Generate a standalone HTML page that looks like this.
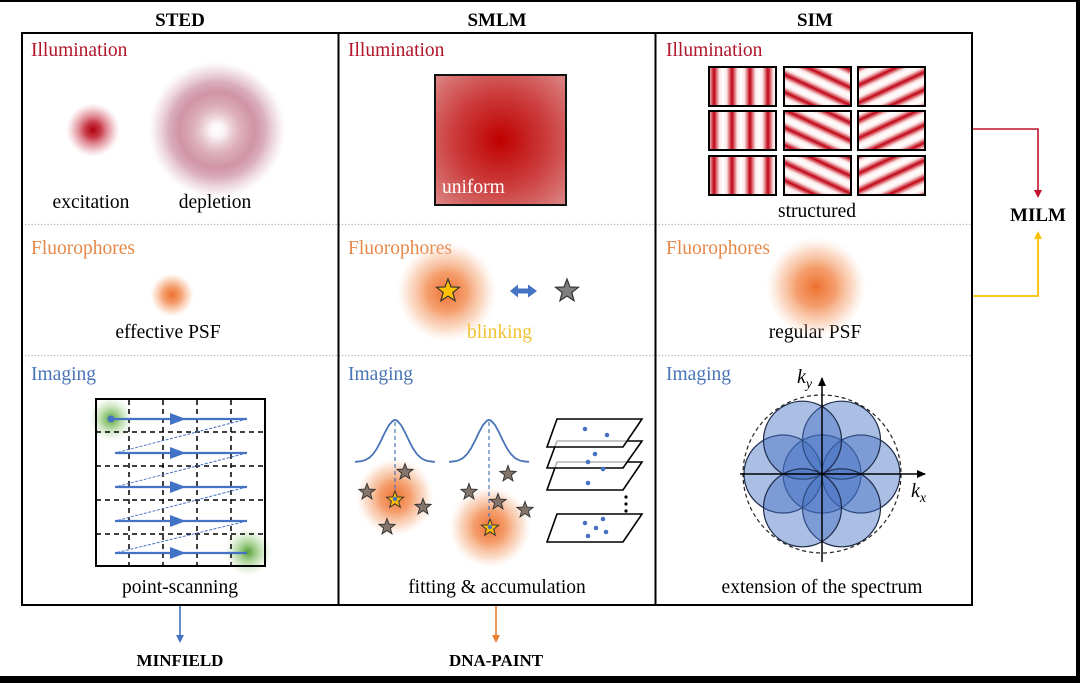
<!DOCTYPE html>
<html><head><meta charset="utf-8"><style>
html,body{margin:0;padding:0;background:#fff;}
svg{display:block;}
text{font-family:"Liberation Serif","DejaVu Serif",serif;}
</style></head><body>
<svg width="1080" height="683" viewBox="0 0 1080 683" xmlns="http://www.w3.org/2000/svg">
<defs>
  <radialGradient id="exc" cx="0.5" cy="0.5" r="0.5">
    <stop offset="0" stop-color="#b0000e"/>
    <stop offset="0.3" stop-color="#c42838" stop-opacity="0.9"/>
    <stop offset="0.7" stop-color="#d86a78" stop-opacity="0.45"/>
    <stop offset="1" stop-color="#e8a0a8" stop-opacity="0"/>
  </radialGradient>
  <radialGradient id="dep" cx="0.5" cy="0.5" r="0.5">
    <stop offset="0" stop-color="#ffffff" stop-opacity="1"/>
    <stop offset="0.1" stop-color="#fbf4f6" stop-opacity="1"/>
    <stop offset="0.35" stop-color="#d49aa8" stop-opacity="0.8"/>
    <stop offset="0.55" stop-color="#c07088" stop-opacity="0.75"/>
    <stop offset="0.7" stop-color="#c27890" stop-opacity="0.6"/>
    <stop offset="0.87" stop-color="#d4a0b0" stop-opacity="0.3"/>
    <stop offset="1" stop-color="#e8c8d0" stop-opacity="0"/>
  </radialGradient>
  <radialGradient id="org" cx="0.5" cy="0.5" r="0.5">
    <stop offset="0" stop-color="#ee7030" stop-opacity="1"/>
    <stop offset="0.4" stop-color="#f2874a" stop-opacity="0.8"/>
    <stop offset="0.75" stop-color="#f5a878" stop-opacity="0.4"/>
    <stop offset="1" stop-color="#fad0b8" stop-opacity="0"/>
  </radialGradient>
  <radialGradient id="grn" cx="0.5" cy="0.5" r="0.5">
    <stop offset="0" stop-color="#4a9a28" stop-opacity="0.95"/>
    <stop offset="0.45" stop-color="#7cbc5c" stop-opacity="0.55"/>
    <stop offset="1" stop-color="#b8dca8" stop-opacity="0"/>
  </radialGradient>
  <radialGradient id="uni" cx="0.5" cy="0.5" r="0.72">
    <stop offset="0" stop-color="#c00000"/>
    <stop offset="0.5" stop-color="#cc3c3c"/>
    <stop offset="1" stop-color="#dc8a8a"/>
  </radialGradient>
  <linearGradient id="sg" x1="0" y1="0" x2="1" y2="0">
    <stop offset="0" stop-color="#ffffff"/>
    <stop offset="0.2" stop-color="#fbe6e6"/>
    <stop offset="0.5" stop-color="#c00010"/>
    <stop offset="0.8" stop-color="#fbe6e6"/>
    <stop offset="1" stop-color="#ffffff"/>
  </linearGradient>
  <pattern id="pv" patternUnits="userSpaceOnUse" width="18" height="10" x="3">
    <rect width="18" height="10" fill="url(#sg)"/>
  </pattern>
  <pattern id="pd1" patternUnits="userSpaceOnUse" width="16" height="10" patternTransform="rotate(-65)">
    <rect width="16" height="10" fill="url(#sg)"/>
  </pattern>
  <pattern id="pd2" patternUnits="userSpaceOnUse" width="16" height="10" patternTransform="rotate(65)">
    <rect width="16" height="10" fill="url(#sg)"/>
  </pattern>
  <path id="star" d="M0,-10 L2.47,-3.4 L9.51,-3.09 L3.99,1.3 L5.88,8.09 L0,4.2 L-5.88,8.09 L-3.99,1.3 L-9.51,-3.09 L-2.47,-3.4 Z"/>
  <marker id="ak" markerWidth="10" markerHeight="10" refX="8" refY="5" orient="auto" markerUnits="userSpaceOnUse">
    <path d="M0,1 L9,5 L0,9 Z" fill="#000"/>
  </marker>
</defs>

<rect x="0" y="0" width="1080" height="2" fill="#000"/>
<rect x="1076" y="0" width="4" height="683" fill="#000"/>
<rect x="0" y="676" width="1080" height="7" fill="#000"/>

<text x="180" y="26" font-size="19" font-weight="bold" text-anchor="middle">STED</text>
<text x="497" y="26" font-size="19" font-weight="bold" text-anchor="middle">SMLM</text>
<text x="815" y="26" font-size="19" font-weight="bold" text-anchor="middle">SIM</text>

<line x1="22" y1="224.5" x2="971" y2="224.5" stroke="#b0b0b0" stroke-width="1.2" stroke-dasharray="1.2,2"/>
<line x1="22" y1="355.5" x2="971" y2="355.5" stroke="#b0b0b0" stroke-width="1.2" stroke-dasharray="1.2,2"/>

<g font-size="19.5">
<text x="31" y="56" fill="#b0152a">Illumination</text>
<text x="348" y="56" fill="#b0152a">Illumination</text>
<text x="666" y="56" fill="#b0152a">Illumination</text>
<text x="31" y="254" fill="#e5884a">Fluorophores</text>
<text x="348" y="254" fill="#e5884a">Fluorophores</text>
<text x="666" y="254" fill="#e5884a">Fluorophores</text>
<text x="31" y="380" fill="#4a74b8">Imaging</text>
<text x="348" y="380" fill="#4a74b8">Imaging</text>
<text x="666" y="380" fill="#4a74b8">Imaging</text>
</g>

<circle cx="93" cy="130" r="27" fill="url(#exc)"/>
<circle cx="217" cy="130" r="69" fill="url(#dep)"/>
<g font-size="19.5" text-anchor="middle" fill="#000">
<text x="91" y="208">excitation</text>
<text x="215" y="208">depletion</text>
<text x="168" y="338">effective PSF</text>
<text x="180" y="593">point-scanning</text>
<text x="817" y="217">structured</text>
<text x="815" y="338">regular PSF</text>
<text x="497" y="593">fitting &amp; accumulation</text>
<text x="822" y="593">extension of the spectrum</text>
</g>

<circle cx="172" cy="295" r="22" fill="url(#org)"/>

<g>
<circle cx="111" cy="419" r="22" fill="url(#grn)"/>
<circle cx="248" cy="552" r="24" fill="url(#grn)"/>
<g stroke="#000" stroke-width="1.5" stroke-dasharray="5,4">
<line x1="96" y1="432" x2="264" y2="432"/>
<line x1="96" y1="466" x2="264" y2="466"/>
<line x1="96" y1="500" x2="264" y2="500"/>
<line x1="96" y1="534" x2="264" y2="534"/>
<line x1="129" y1="400" x2="129" y2="566"/>
<line x1="163" y1="400" x2="163" y2="566"/>
<line x1="197" y1="400" x2="197" y2="566"/>
<line x1="231" y1="400" x2="231" y2="566"/>
</g>
<rect x="96" y="399" width="169" height="167" fill="none" stroke="#000" stroke-width="2"/>
<g stroke="#4472c4" stroke-width="1" stroke-dasharray="3,1.5">
<line x1="247" y1="419" x2="115" y2="453"/>
<line x1="247" y1="453" x2="115" y2="487"/>
<line x1="247" y1="487" x2="115" y2="521"/>
<line x1="247" y1="521" x2="115" y2="553"/>
</g>
<g stroke="#4472c4" stroke-width="2.2">
<line x1="111" y1="419" x2="247" y2="419"/>
<line x1="115" y1="453" x2="247" y2="453"/>
<line x1="115" y1="487" x2="247" y2="487"/>
<line x1="115" y1="521" x2="247" y2="521"/>
<line x1="115" y1="553" x2="247" y2="553"/>
</g>
<g fill="#4472c4">
<path d="M170,413 L186,419 L170,425 Z"/>
<path d="M170,447 L186,453 L170,459 Z"/>
<path d="M170,481 L186,487 L170,493 Z"/>
<path d="M170,515 L186,521 L170,527 Z"/>
<path d="M170,547 L186,553 L170,559 Z"/>
<circle cx="111" cy="419" r="3.5"/>
</g>
</g>

<rect x="435" y="75" width="131" height="130" fill="url(#uni)" stroke="#111" stroke-width="2"/>
<text x="442" y="193" font-size="19.5" fill="#fff">uniform</text>

<circle cx="447" cy="292" r="50" fill="url(#org)"/>
<use href="#star" transform="translate(448,291) scale(1.2)" fill="#ffc000" stroke="#333" stroke-width="1"/>
<path d="M510,291 L518,284.5 L518,288.5 L528,288.5 L528,284.5 L537,291 L528,297.5 L528,293.5 L518,293.5 L518,297.5 Z" fill="#4472c4"/>
<use href="#star" transform="translate(567,291) scale(1.2)" fill="#7f7f7f" stroke="#333" stroke-width="1"/>
<text x="467" y="338" font-size="19.5" fill="#f2c230">blinking</text>

<circle cx="395" cy="497" r="39" fill="url(#org)"/>
<circle cx="490" cy="527" r="41" fill="url(#org)"/>
<polyline fill="none" stroke="#4a74b8" stroke-width="1.8" points="355,461.8 357,461.7 361,461.2 365,460.2 369,458 373,454.2 377,448.4 381,440.7 385,432.3 389,425 393,420.6 395,420 397,420.6 401,425 405,432.3 409,440.7 413,448.4 417,454.2 421,458 425,460.2 429,461.2 433,461.7 435,461.8"/>
<polyline fill="none" stroke="#4a74b8" stroke-width="1.8" points="449,461.8 451,461.7 455,461.2 459,460.2 463,458 467,454.2 471,448.4 475,440.7 479,432.3 483,425 487,420.6 489,420 491,420.6 495,425 499,432.3 503,440.7 507,448.4 511,454.2 515,458 519,460.2 523,461.2 527,461.7 529,461.8"/>
<line x1="395" y1="422" x2="395" y2="498" stroke="#4a74b8" stroke-width="1.2" stroke-dasharray="4,3"/>
<line x1="489" y1="422" x2="489" y2="526" stroke="#4a74b8" stroke-width="1.2" stroke-dasharray="4,3"/>
<g fill="#85756c" stroke="#333" stroke-width="1.1">
<use href="#star" transform="translate(405,472) scale(0.85)"/>
<use href="#star" transform="translate(367,492) scale(0.85)"/>
<use href="#star" transform="translate(423,507) scale(0.85)"/>
<use href="#star" transform="translate(387,527) scale(0.85)"/>
<use href="#star" transform="translate(508,474) scale(0.85)"/>
<use href="#star" transform="translate(469,492) scale(0.85)"/>
<use href="#star" transform="translate(498,502) scale(0.85)"/>
<use href="#star" transform="translate(525,510) scale(0.85)"/>
</g>
<g fill="#ffc000" stroke="#333" stroke-width="1.1">
<use href="#star" transform="translate(395,500) scale(0.9)"/>
<use href="#star" transform="translate(490,528) scale(0.9)"/>
</g>
<circle cx="395" cy="499" r="2.2" fill="#4a74b8"/>
<circle cx="490" cy="527" r="2.2" fill="#4a74b8"/>
<g stroke="#000" stroke-width="1.6" fill="#fff" fill-opacity="0.7">
<polygon points="557,462 642,462 623,490 547,490"/>
<polygon points="557,441 642,441 623,468 547,468"/>
<polygon points="557,419 642,419 623,447 547,447"/>
<polygon points="557,514 642,514 623,542 547,542"/>
</g>
<g fill="#4472c4">
<circle cx="585" cy="429" r="2.3"/><circle cx="607" cy="435" r="2.3"/>
<circle cx="595" cy="454" r="2.3"/><circle cx="588" cy="462" r="2.3"/><circle cx="603" cy="469" r="2.3"/>
<circle cx="588" cy="483" r="2.3"/>
<circle cx="585" cy="523" r="2.3"/><circle cx="603" cy="519" r="2.3"/><circle cx="596" cy="528" r="2.3"/><circle cx="588" cy="536" r="2.3"/><circle cx="606" cy="532" r="2.3"/>
</g>
<g fill="#000">
<circle cx="626" cy="497" r="1.6"/><circle cx="626" cy="504" r="1.6"/><circle cx="626" cy="511" r="1.6"/>
</g>

<g stroke="#000" stroke-width="2">
<rect x="709" y="67" width="67" height="39" fill="url(#pv)"/>
<rect x="709" y="111" width="67" height="39" fill="url(#pv)"/>
<rect x="709" y="156" width="67" height="39" fill="url(#pv)"/>
<rect x="784" y="67" width="67" height="39" fill="url(#pd1)"/>
<rect x="784" y="111" width="67" height="39" fill="url(#pd1)"/>
<rect x="784" y="156" width="67" height="39" fill="url(#pd1)"/>
<rect x="858" y="67" width="67" height="39" fill="url(#pd2)"/>
<rect x="858" y="111" width="67" height="39" fill="url(#pd2)"/>
<rect x="858" y="156" width="67" height="39" fill="url(#pd2)"/>
</g>

<circle cx="816" cy="287" r="50" fill="url(#org)"/>

<g fill="#4472c4" fill-opacity="0.45" stroke="#1c2a48" stroke-width="1.2">
<circle cx="822" cy="474" r="39"/>
<circle cx="861" cy="474" r="39"/>
<circle cx="783" cy="474" r="39"/>
<circle cx="841.5" cy="440.2" r="39"/>
<circle cx="802.5" cy="440.2" r="39"/>
<circle cx="841.5" cy="507.8" r="39"/>
<circle cx="802.5" cy="507.8" r="39"/>
</g>
<circle cx="822" cy="474" r="79" fill="none" stroke="#222" stroke-width="1.2" stroke-dasharray="4,3"/>
<line x1="822" y1="562" x2="822" y2="378" stroke="#000" stroke-width="1.5" marker-end="url(#ak)"/>
<line x1="740" y1="474" x2="925" y2="474" stroke="#000" stroke-width="1.5" marker-end="url(#ak)"/>
<text x="797" y="383" font-size="20" font-style="italic">k<tspan font-size="14" dy="5">y</tspan></text>
<text x="911" y="497" font-size="20" font-style="italic">k<tspan font-size="14" dy="5">x</tspan></text>

<rect x="22" y="33" width="950" height="572" fill="none" stroke="#000" stroke-width="2"/>
<line x1="338.5" y1="33" x2="338.5" y2="605" stroke="#000" stroke-width="2"/>
<line x1="655.5" y1="33" x2="655.5" y2="605" stroke="#000" stroke-width="2"/>

<polyline points="973,129 1038,129 1038,192" fill="none" stroke="#c0102a" stroke-width="1.6"/>
<path d="M1034,190 L1042,190 L1038,198 Z" fill="#c0102a"/>
<polyline points="973,296 1038,296 1038,237" fill="none" stroke="#ffc000" stroke-width="1.8"/>
<path d="M1034,239 L1042,239 L1038,231 Z" fill="#ffc000"/>
<text x="1038" y="221" font-size="19" font-weight="bold" text-anchor="middle">MILM</text>

<line x1="180" y1="606" x2="180" y2="637" stroke="#4472c4" stroke-width="1.6"/>
<path d="M176,635 L184,635 L180,643 Z" fill="#4472c4"/>
<line x1="496" y1="606" x2="496" y2="637" stroke="#ed7d31" stroke-width="1.6"/>
<path d="M492,635 L500,635 L496,643 Z" fill="#ed7d31"/>
<text x="180" y="666" font-size="17" font-weight="bold" text-anchor="middle">MINFIELD</text>
<text x="496" y="666" font-size="17" font-weight="bold" text-anchor="middle">DNA-PAINT</text>
</svg>
</body></html>
